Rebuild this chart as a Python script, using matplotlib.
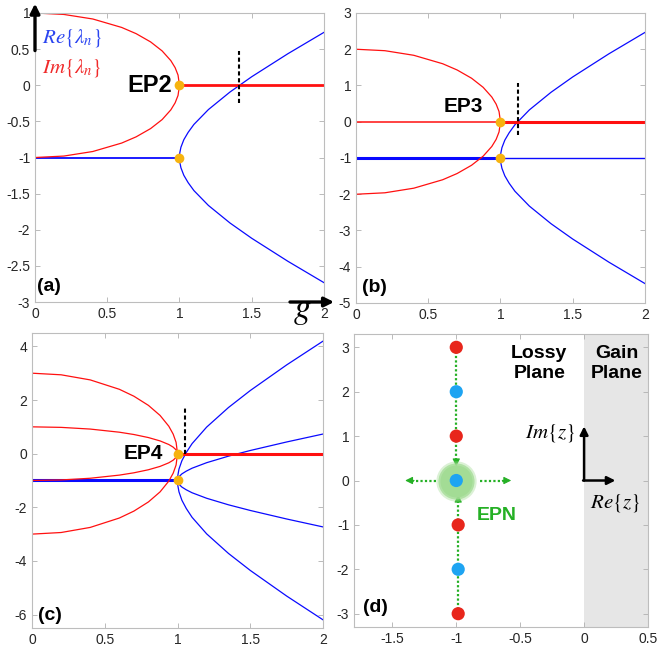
import numpy as np
import matplotlib.pyplot as plt

plt.rcParams['font.family'] = ['Liberation Sans', 'DejaVu Sans']
plt.rcParams['mathtext.fontset'] = 'stix'
plt.rcParams['axes.unicode_minus'] = False

# gain samples (below / above the EP)
g_in = [0, 0.2, 0.4, 0.6, 0.7, 0.8, 0.88, 0.94, 0.97, 0.99, 1.0]
g_out = [1.0, 1.002, 1.01, 1.03, 1.06, 1.1, 1.2, 1.35, 1.5, 1.75, 2.0]
g_flat_in = [0, 1]
g_flat_out = [1, 2]
re_flat = [-1, -1]
im_flat = [0, 0]

# panel (a) - EP2
im_a_up = [1.0, 0.98, 0.917, 0.8, 0.714, 0.6, 0.475, 0.341, 0.243, 0.141, 0.0]
im_a_dn = [-1.0, -0.98, -0.917, -0.8, -0.714, -0.6, -0.475, -0.341, -0.243, -0.141, 0.0]
re_a_up = [-1.0, -0.937, -0.858, -0.754, -0.652, -0.542, -0.337, -0.093, 0.118, 0.436, 0.732]
re_a_dn = [-1.0, -1.063, -1.142, -1.246, -1.348, -1.458, -1.663, -1.907, -2.118, -2.436, -2.732]

# panel (b) - EP3
im_b_up = [2.0, 1.96, 1.833, 1.6, 1.428, 1.2, 0.95, 0.682, 0.486, 0.282, 0.0]
im_b_dn = [-2.0, -1.96, -1.833, -1.6, -1.428, -1.2, -0.95, -0.682, -0.486, -0.282, 0.0]
re_b_up = [-1.0, -0.874, -0.716, -0.508, -0.304, -0.083, 0.327, 0.813, 1.236, 1.873, 2.464]
re_b_dn = [-1.0, -1.126, -1.284, -1.492, -1.696, -1.917, -2.327, -2.813, -3.236, -3.873, -4.464]

# panel (c) - EP4
im_c_1 = [3.0, 2.94, 2.75, 2.4, 2.142, 1.8, 1.425, 1.023, 0.729, 0.423, 0.0]
im_c_2 = [1.0, 0.98, 0.917, 0.8, 0.714, 0.6, 0.475, 0.341, 0.243, 0.141, 0.0]
im_c_3 = [-1.0, -0.98, -0.917, -0.8, -0.714, -0.6, -0.475, -0.341, -0.243, -0.141, 0.0]
im_c_4 = [-3.0, -2.94, -2.75, -2.4, -2.142, -1.8, -1.425, -1.023, -0.729, -0.423, 0.0]
re_c_1 = [-1.0, -0.811, -0.574, -0.262, 0.044, 0.374, 0.99, 1.72, 2.354, 3.309, 4.196]
re_c_2 = [-1.0, -0.937, -0.858, -0.754, -0.652, -0.542, -0.337, -0.093, 0.118, 0.436, 0.732]
re_c_3 = [-1.0, -1.063, -1.142, -1.246, -1.348, -1.458, -1.663, -1.907, -2.118, -2.436, -2.732]
re_c_4 = [-1.0, -1.189, -1.426, -1.738, -2.044, -2.374, -2.99, -3.72, -4.354, -5.309, -6.196]

# exceptional points and dashed markers
ep_g = [1, 1]
ep_val = [0, -1]
dash_g = [1.414, 1.118, 1.054]
dash_lo = [-0.25, -0.36, 0.0]
dash_hi = [0.47, 1.06, 1.75]

# panel (d) - complex plane
z_re = [-1, -1, -1, -1, -0.985, -0.985, -0.985]
z_im = [3, 2, 1, 0, -1, -2, -3]
z_col = ['#e8261c', '#1ea4f2', '#e8261c', '#1ea4f2', '#e8261c', '#1ea4f2', '#e8261c']

RED = '#ff1010'
BLUE = '#0a0aff'
ORANGE = '#f6b30f'
GREEN = '#25b025'

fig = plt.figure(figsize=(6.59, 6.53), dpi=100)
axa = fig.add_axes([0.0531, 0.5375, 0.4385, 0.4426])
axb = fig.add_axes([0.5402, 0.5360, 0.4385, 0.4441])
axc = fig.add_axes([0.0486, 0.0383, 0.4416, 0.4518])
axd = fig.add_axes([0.5372, 0.0398, 0.4461, 0.4487])


def style(ax):
    for s in ax.spines.values():
        s.set_color('#bdbdbd')
        s.set_linewidth(0.8)
    ax.tick_params(direction='in', length=3.5, width=0.6, color='#b0b0b0',
                   labelcolor='#262626', labelsize=10, top=True, right=True, pad=3.5)


def label(ax, txt, x, y):
    ax.text(x, y, txt, transform=ax.transAxes, fontsize=14, fontweight='bold',
            ha='left', va='center')


def eps(ax, k, name, tx, ty, fs):
    ax.plot(ep_g, ep_val, 'o', color=ORANGE, ms=7, mec='none', zorder=5)
    ax.plot([dash_g[k], dash_g[k]], [dash_lo[k], dash_hi[k]], color='k', lw=1.5,
            ls=(0, (2, 1.3)), zorder=6)
    ax.text(tx, ty, name, fontsize=fs, fontweight='bold', ha='right', va='center')


# ---- (a)
ax = axa
ax.plot(g_flat_in, re_flat, color=BLUE, lw=1.3)
ax.plot(g_out, re_a_up, color=BLUE, lw=0.9)
ax.plot(g_out, re_a_dn, color=BLUE, lw=0.9)
ax.plot(g_in, im_a_up, color=RED, lw=0.9)
ax.plot(g_in, im_a_dn, color=RED, lw=0.9)
ax.plot(g_flat_out, im_flat, color=RED, lw=2.0)
eps(ax, 0, 'EP2', 0.95, 0.0, 17)
ax.set_xlim(0, 2)
ax.set_ylim(-3, 1)
ax.set_xticks([0, 0.5, 1, 1.5, 2])
ax.set_xticklabels(['0', '0.5', '1', '1.5', '2'])
ax.set_yticks([-3, -2.5, -2, -1.5, -1, -0.5, 0, 0.5, 1])
ax.set_yticklabels(['-3', '-2.5', '-2', '-1.5', '-1', '-0.5', '0', '0.5', '1'])
style(ax)
label(ax, '(a)', 0.007, 0.055)
ax.text(0.023, 0.912, r'$Re\{\lambda_n\}$', transform=ax.transAxes, color='#2a44f0',
        fontsize=15, va='center')
ax.text(0.023, 0.809, r'$Im\{\lambda_n\}$', transform=ax.transAxes, color='#f02a2a',
        fontsize=15, va='center')
ax.annotate('', xy=(0, 1.13), xytext=(0, 0.48), xycoords='data',
            arrowprops=dict(arrowstyle='-|>', lw=2.4, color='k', mutation_scale=14,
                            shrinkA=0, shrinkB=0), annotation_clip=False)
ax.annotate('', xy=(2.07, -3), xytext=(1.765, -3), xycoords='data',
            arrowprops=dict(arrowstyle='-|>', lw=2.4, color='k', mutation_scale=14,
                            shrinkA=0, shrinkB=0), annotation_clip=False)
ax.text(1.85, -3.22, r'$g$', fontsize=25, ha='center', va='baseline', clip_on=False)

# ---- (b)
ax = axb
ax.plot(g_flat_in, re_flat, color=BLUE, lw=2.2)
ax.plot(g_flat_out, re_flat, color=BLUE, lw=1.0)
ax.plot(g_out, re_b_up, color=BLUE, lw=0.9)
ax.plot(g_out, re_b_dn, color=BLUE, lw=0.9)
ax.plot(g_flat_in, im_flat, color=RED, lw=1.1)
ax.plot(g_in, im_b_up, color=RED, lw=0.9)
ax.plot(g_in, im_b_dn, color=RED, lw=0.9)
ax.plot(g_flat_out, im_flat, color=RED, lw=2.2)
eps(ax, 1, 'EP3', 0.88, 0.41, 15)
ax.set_xlim(0, 2)
ax.set_ylim(-5, 3)
ax.set_xticks([0, 0.5, 1, 1.5, 2])
ax.set_xticklabels(['0', '0.5', '1', '1.5', '2'])
ax.set_yticks(range(-5, 4))
style(ax)
label(ax, '(b)', 0.02, 0.055)

# ---- (c)
ax = axc
ax.plot(g_flat_in, re_flat, color=BLUE, lw=2.2)
for re_c in (re_c_1, re_c_2, re_c_3, re_c_4):
    ax.plot(g_out, re_c, color=BLUE, lw=0.9)
for im_c in (im_c_1, im_c_2, im_c_3, im_c_4):
    ax.plot(g_in, im_c, color=RED, lw=0.9)
ax.plot(g_flat_out, im_flat, color=RED, lw=2.2)
eps(ax, 2, 'EP4', 0.90, 0.0, 15)
ax.set_xlim(0, 2)
ax.set_ylim(-6.5, 4.5)
ax.set_xticks([0, 0.5, 1, 1.5, 2])
ax.set_xticklabels(['0', '0.5', '1', '1.5', '2'])
ax.set_yticks([-6, -4, -2, 0, 2, 4])
style(ax)
label(ax, '(c)', 0.02, 0.044)

# ---- (d)
ax = axd
ax.axvspan(0, 0.5, color='#e6e6e6', zorder=0, lw=0)
ax.plot([z_re[0], z_re[0]], [z_im[0], 0.33], color=GREEN, lw=1.6, ls=(0, (1, 1)), zorder=2)
ax.plot([z_re[-1], z_re[-1]], [z_im[-1], -0.33], color=GREEN, lw=1.6, ls=(0, (1, 1)), zorder=2)
ax.plot([-1.157, -1.37], [0, 0], color=GREEN, lw=1.6, ls=(0, (1, 1)), zorder=2)
ax.plot([-0.817, -0.6], [0, 0], color=GREEN, lw=1.6, ls=(0, (1, 1)), zorder=2)
heads = [((z_re[0], 0.32), (z_re[0], 0.45)),
         ((z_re[-1], -0.32), (z_re[-1], -0.45)),
         ((-1.40, 0), (-1.33, 0)),
         ((-0.57, 0), (-0.64, 0))]
for tip, tail in heads:
    ax.annotate('', xy=tip, xytext=tail,
                arrowprops=dict(arrowstyle='-|>', lw=0.8, color=GREEN, mutation_scale=11,
                                shrinkA=0, shrinkB=0), zorder=3)
ax.scatter([z_re[3]], [z_im[3]], s=29 ** 2, color='#a6dd98', alpha=0.4, lw=0, zorder=3)
ax.scatter([z_re[3]], [z_im[3]], s=26 ** 2, color='#a6dd98', alpha=0.8, lw=0, zorder=3)
ax.scatter([z_re[3]], [z_im[3]], s=23 ** 2, color='#a3dc95', lw=0, zorder=3)
ax.scatter(z_re, z_im, s=9.5 ** 2, c=z_col, lw=0, zorder=4)
ax.text(-0.68, -0.78, 'EPN', color=GREEN, fontsize=14, fontweight='bold', ha='center', va='center')
ax.text(-0.35, 2.64, 'Lossy\nPlane', fontsize=14, fontweight='bold', ha='center', va='center',
        linespacing=1.25)
ax.text(0.255, 2.64, 'Gain\nPlane', fontsize=14, fontweight='bold', ha='center', va='center',
        linespacing=1.25)
ax.annotate('', xy=(0, 1.22), xytext=(0, 0),
            arrowprops=dict(arrowstyle='-|>', lw=1.8, color='k', mutation_scale=12,
                            shrinkA=0, shrinkB=0))
ax.annotate('', xy=(0.245, 0), xytext=(-0.008, 0),
            arrowprops=dict(arrowstyle='-|>', lw=1.8, color='k', mutation_scale=12,
                            shrinkA=0, shrinkB=0))
ax.text(-0.07, 1.08, r'$Im\{z\}$', fontsize=15, ha='right', va='center')
ax.text(0.24, -0.5, r'$Re\{z\}$', fontsize=15, ha='center', va='center')
ax.set_xlim(-1.8, 0.5)
ax.set_ylim(-3.3, 3.3)
ax.set_xticks([-1.5, -1, -0.5, 0, 0.5])
ax.set_xticklabels(['-1.5', '-1', '-0.5', '0', '0.5'])
ax.set_yticks(range(-3, 4))
style(ax)
label(ax, '(d)', 0.03, 0.065)

fig.savefig('out.png', dpi=100)
